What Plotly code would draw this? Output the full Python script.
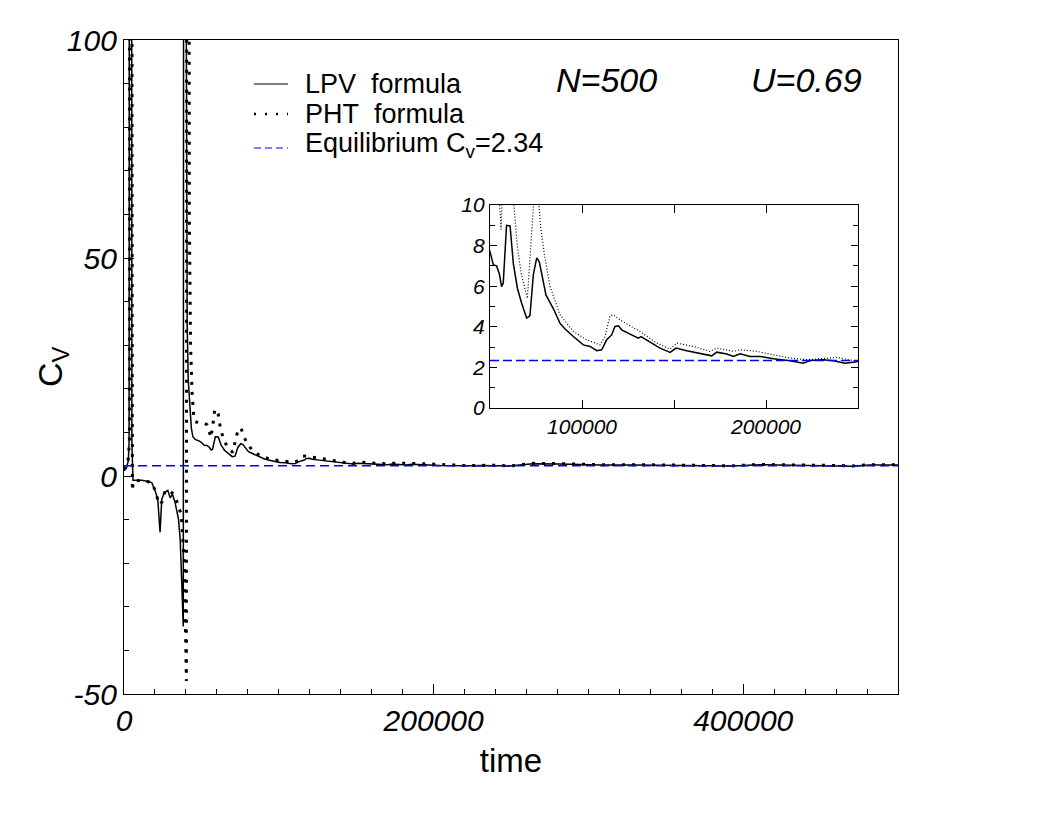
import plotly.graph_objects as go

# ---- data ----
lpv_time = [0, 1500, 2800, 3300, 3600, 4800, 5100, 5400, 5800, 8000, 11500, 15000, 17900,
            20100, 21800, 23300, 24400, 26100, 28300, 29800, 31300, 33000, 35200, 36300,
            37500, 38300, 38700, 39800, 40300, 40800, 41500, 42500, 43500, 44500, 46000,
            48000, 50000, 51800, 53600, 55100, 56300, 57200, 59000, 60900, 62700, 64900,
            67200, 69900, 71700, 73600, 75400, 76800, 80400, 84400, 88000, 90800, 95300,
            100700, 104400, 108000, 110700, 113400, 116100, 117900, 119800, 121600, 126100,
            130600, 132100, 137000, 142400, 147900, 151100, 156900, 164200, 170500, 173200,
            178700, 182300, 185900, 191300, 196800, 204000, 213100, 220300, 224000, 231200,
            236600, 243000, 249300, 253700, 264400, 281600, 296600, 307400, 329000, 350400,
            372000, 393300, 410600, 427900, 444900, 462200, 470600, 481600, 500000]
lpv_cv = [1.2, 1.8, 3.5, 8.0, 300, 300, 7.7, 3.0, -1.0, -1.0, -1.0, -1.2, -1.5,
          -3.4, -5.3, -12.9, -5.3, -3.8, -3.3, -5.0, -4.2, -6.1, -9.9, -14.5,
          -25, -34.5, 300, 300, 60, 35, 22, 15, 11, 9.0, 8.4,
          8.1, 7.7, 7.05, 7.0, 6.6, 5.98, 6.15, 9.0, 8.97, 7.1, 5.9,
          5.16, 4.43, 4.54, 6.6, 7.4, 7.2, 5.57, 4.9, 4.18, 3.89, 3.52,
          3.11, 3.03, 2.82, 2.87, 3.36, 3.6, 4.02, 4.05, 3.85, 3.64,
          3.44, 3.52, 3.23, 2.95, 2.74, 2.95, 2.82, 2.67, 2.57, 2.75,
          2.66, 2.54, 2.67, 2.54, 2.54, 2.43, 2.33, 2.21, 2.34, 2.38,
          2.33, 2.21, 2.28, 2.45, 2.8, 2.75, 2.6, 2.5, 2.55, 2.45,
          2.4, 2.3, 2.6, 2.55, 2.45, 2.35, 2.26, 2.55, 2.5]

pht_time = [0, 2500, 3500, 3800, 4700, 5000, 5400, 6000, 11500, 17900, 20500, 22500,
            24500, 26500, 28500, 31900, 34700, 37000, 39000, 40300, 40700, 41600, 42200,
            43000, 44000, 45000, 46000, 48000, 51000, 53500, 55000, 56000, 57200, 58600,
            60800, 61800, 63000, 64800, 67000, 70300, 72600, 74200, 75600, 77700, 79500,
            82600, 88000, 95300, 102500, 109800, 112500, 115200, 117000, 120700, 131500,
            140600, 147900, 151500, 160500, 169600, 173200, 182300, 185900, 195000, 204000,
            213100, 222200, 231200, 238500, 249300, 253700, 264400, 281600, 296600, 307400,
            329000, 350400, 372000, 393300, 410600, 427900, 444900, 462200, 470600, 481600,
            500000]
pht_cv = [1.5, 3.0, 8.0, 300, 300, 8.0, -3.4, -1.2, -1.0, -1.5, -3.6, -6.5,
          -6.0, -3.5, -3.2, -4.1, -6.3, -9, -20, -47, 300, 300, 60,
          30, 19, 14, 12.5, 12.2, 12.2, 11.8, 10.5, 8.8, 11, 15.3,
          14.3, 12.0, 10.0, 8.0, 6.6, 5.4, 9.2, 10.8, 11.0, 8.8, 7.6,
          6.0, 4.6, 3.77, 3.36, 3.11, 3.52, 4.54, 4.59, 4.34, 3.77,
          3.2, 2.9, 3.2, 3.03, 2.79, 2.95, 2.79, 2.87, 2.79, 2.62,
          2.46, 2.38, 2.43, 2.49, 2.3, 2.5, 2.9, 2.85, 2.7, 2.6,
          2.6, 2.5, 2.45, 2.35, 2.65, 2.6, 2.5, 2.4, 2.3, 2.6,
          2.55]

eq_cv = 2.34
main_time_range = [0, 500000]
inset_time_range = [50000, 250000]
main_cv_range = [-50, 100]
inset_cv_range = [0, 10]
main_xticks = [0, 200000, 400000]
main_yticks = [-50, 0, 50, 100]
main_yticklabels = ["-50", "0", "50", "100"]
inset_xticks = [100000, 150000, 200000]
inset_xticklabels = ["100000", "", "200000"]
inset_yticks = [0, 2, 4, 6, 8, 10]
legend_labels = ["LPV\u00a0 formula", "PHT\u00a0 formula", "Equilibrium C<sub>v</sub>=2.34"]
info_labels = ["N=500", "U=0.69"]
y_title = "C<sub>V</sub>"
x_title = "time"

FONT = "Liberation Sans, Arial, Helvetica, sans-serif"

# page body has an 8px margin: shrink the figure so the plot area lands at
# screen pixels x 124..898, y 40..694
OFF = 8
W, H = 1058 - OFF, 817 - OFF
L, T = 124 - OFF, 40 - OFF
PW, PH = 774, 654
R, B = W - L - PW, H - T - PH


def px(X):
    return (X - 124) / PW


def py(Y):
    return (694 - Y) / PH


fig = go.Figure()

# main traces
fig.add_trace(go.Scatter(x=lpv_time, y=lpv_cv, mode="lines", name=legend_labels[0], showlegend=False,
                         line=dict(color="black", width=1.5), xaxis="x", yaxis="y"))
fig.add_trace(go.Scatter(x=pht_time, y=pht_cv, mode="lines", name=legend_labels[1], showlegend=False,
                         line=dict(color="black", width=3, dash="3px,7px"), xaxis="x", yaxis="y"))
fig.add_trace(go.Scatter(x=main_time_range, y=[eq_cv, eq_cv], mode="lines", name=legend_labels[2],
                         showlegend=False,
                         line=dict(color="#0000ff", width=1.5, dash="9px,5px"), xaxis="x", yaxis="y"))

# inset traces
fig.add_trace(go.Scatter(x=lpv_time, y=lpv_cv, mode="lines", showlegend=False,
                         line=dict(color="black", width=1.5), xaxis="x2", yaxis="y2"))
fig.add_trace(go.Scatter(x=pht_time, y=pht_cv, mode="lines", showlegend=False,
                         line=dict(color="black", width=1.2, dash="1px,2px"), xaxis="x2", yaxis="y2"))
fig.add_trace(go.Scatter(x=inset_time_range, y=[eq_cv, eq_cv], mode="lines", showlegend=False,
                         line=dict(color="#0000ff", width=1.5, dash="9px,4px"), xaxis="x2", yaxis="y2"))

tickfont_main = dict(family=FONT, size=30, color="black", style="italic")
tickfont_inset = dict(family=FONT, size=21, color="black", style="italic")

# legend drawn by hand: line samples + labels
legend_rows = [84, 114, 148]
legend_styles = [dict(color="black", width=1.2),
                 dict(color="black", width=2.5, dash="2px,9px"),
                 dict(color="#0000ff", width=1.2, dash="7px,4px")]
shapes = []
annotations = []
for yrow, st in zip(legend_rows, legend_styles):
    shapes.append(dict(type="line", xref="paper", yref="paper", x0=px(254), x1=px(288),
                       y0=py(yrow), y1=py(yrow), line=st))
for yrow, lab in zip([84, 114, 145], legend_labels):
    annotations.append(dict(text=lab, xref="paper", yref="paper", x=px(303), y=py(yrow),
                            xanchor="left", yanchor="middle", showarrow=False,
                            font=dict(family=FONT, size=27, color="black")))
for xc, lab in zip([606, 806], info_labels):
    annotations.append(dict(text=lab, xref="paper", yref="paper", x=px(xc), y=py(80),
                            xanchor="center", yanchor="middle", showarrow=False,
                            font=dict(family=FONT, size=34, style="italic", color="black")))
# y-axis title
annotations.append(dict(text=y_title, xref="paper", yref="paper", x=px(52), y=py(367),
                        xanchor="center", yanchor="middle", textangle=-90, showarrow=False,
                        font=dict(family=FONT, size=34, color="black")))

fig.update_layout(
    width=W, height=H,
    margin=dict(l=L, r=R, t=T, b=B),
    paper_bgcolor="white", plot_bgcolor="white",
    font=dict(family=FONT, color="black"),
    showlegend=False,
    xaxis=dict(range=main_time_range, tickvals=main_xticks, tickformat="d",
               ticks="inside", ticklen=10, tickwidth=1, tickcolor="black",
               minor=dict(dtick=20000, ticks="inside", ticklen=5, tickcolor="black"),
               showline=True, linecolor="black", linewidth=1.2, mirror=True,
               showgrid=False, zeroline=False, tickfont=tickfont_main,
               title=dict(text=x_title, font=dict(family=FONT, size=33, color="black"), standoff=12)),
    yaxis=dict(range=main_cv_range, tickvals=main_yticks, ticktext=main_yticklabels,
               ticks="inside", ticklen=10, tickwidth=1, tickcolor="black",
               minor=dict(dtick=10, ticks="inside", ticklen=5, tickcolor="black"),
               showline=True, linecolor="black", linewidth=1.2, mirror=True,
               showgrid=False, zeroline=False, tickfont=tickfont_main),
    xaxis2=dict(domain=[px(490), px(858)], anchor="y2", range=inset_time_range,
                tickvals=inset_xticks, ticktext=inset_xticklabels,
                ticks="inside", ticklen=8, tickcolor="black",
                showline=True, linecolor="black", linewidth=1.2, mirror="allticks",
                showgrid=False, zeroline=False, tickfont=tickfont_inset),
    yaxis2=dict(domain=[py(408), py(205)], anchor="x2", range=inset_cv_range,
                tickvals=inset_yticks,
                ticks="inside", ticklen=7, tickcolor="black",
                minor=dict(dtick=1, ticks="inside", ticklen=5, tickcolor="black"),
                showline=True, linecolor="black", linewidth=1.2, mirror="allticks",
                showgrid=False, zeroline=False, tickfont=tickfont_inset),
    shapes=shapes,
    annotations=annotations,
)

fig.write_html("out.html")
